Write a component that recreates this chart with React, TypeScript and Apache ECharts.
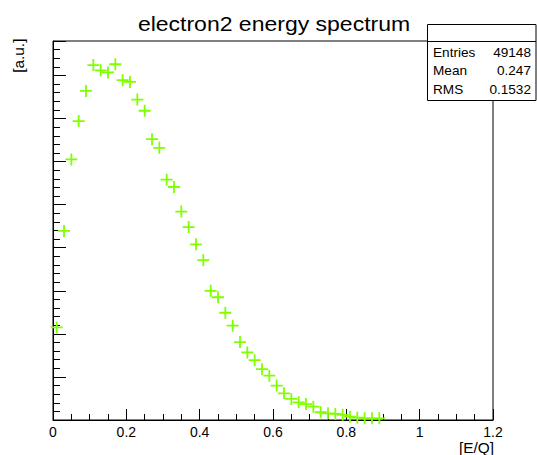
import React, { useEffect, useRef } from "react";
import * as echarts from "echarts";

// ---- data ----
const xCenters = [
  0.01, 0.03, 0.05, 0.07, 0.09, 0.11, 0.13, 0.15, 0.17, 0.19,
  0.21, 0.23, 0.25, 0.27, 0.29, 0.31, 0.33, 0.35, 0.37, 0.39,
  0.41, 0.43, 0.45, 0.47, 0.49, 0.51, 0.53, 0.55, 0.57, 0.59,
  0.61, 0.63, 0.65, 0.67, 0.69, 0.71, 0.73, 0.75, 0.77, 0.79,
  0.81, 0.83, 0.85, 0.87, 0.89,
];
const yValues = [
  2.15, 4.39, 6.05, 6.94, 7.64, 8.24, 8.12, 8.07, 8.26, 7.89,
  7.85, 7.44, 7.18, 6.52, 6.32, 5.58, 5.41, 4.84, 4.48, 4.08,
  3.71, 3.0, 2.85, 2.49, 2.19, 1.81, 1.57, 1.39, 1.18, 1.03,
  0.8, 0.62, 0.49, 0.41, 0.37, 0.31, 0.18, 0.155, 0.14, 0.12,
  0.077, 0.053, 0.04, 0.04, 0.04,
];
const titleText = "electron2 energy spectrum";
const xTitle = "[E/Q]";
const yTitle = "[a.u.]";
const statsLabels = ["Entries", "Mean", "RMS"];
const statsValues = ["49148", "0.247", "0.1532"];
const xMin = 0;
const xMax = 1.2;
const xInterval = 0.2;
const yMin = 0;
const yMax = 8.8;

const FONT = "Liberation Sans";
const MARKER = "#80ff00";
const plusPath =
  "path://M5.1,0L6.9,0L6.9,5.1L12,5.1L12,6.9L6.9,6.9L6.9,12L5.1,12L5.1,6.9L0,6.9L0,5.1L5.1,5.1Z";

function label(
  text: string,
  x: number,
  y: number,
  size: number,
  align: string,
  sx: number,
  rotation = 0
) {
  return {
    type: "text",
    z: 101,
    x,
    y,
    scaleX: sx,
    rotation,
    style: {
      x: 0,
      y: 0,
      text,
      fill: "#000",
      font: `${size}px "${FONT}"`,
      textAlign: align,
      textVerticalAlign: "middle",
    },
  };
}

export default function App() {
  const ref = useRef<HTMLDivElement>(null);
  useEffect(() => {
    if (!ref.current) return;
    const chart = echarts.init(ref.current, undefined, { renderer: "svg" });
    const black = { color: "#000", width: 1 };
    const statsRows: any[] = [];
    statsLabels.forEach((lab, i) => {
      statsRows.push(label(lab, 433, 52.7 + i * 18.3, 12.6, "left", 1.08));
      statsRows.push(
        label(statsValues[i], 531, 52.7 + i * 18.3, 12.6, "right", 1.08)
      );
    });
    chart.setOption({
      animation: false,
      backgroundColor: "#fff",
      grid: {
        left: 53,
        right: 44,
        top: 41,
        bottom: 35,
        show: true,
        borderColor: "#000",
        borderWidth: 1,
        backgroundColor: "transparent",
      },
      xAxis: {
        type: "value",
        min: xMin,
        max: xMax,
        interval: xInterval,
        axisLine: { show: true, onZero: false, lineStyle: black },
        axisTick: { show: true, inside: true, length: 11, lineStyle: black },
        minorTick: { show: true, splitNumber: 4, length: 6, lineStyle: black },
        splitLine: { show: false },
        minorSplitLine: { show: false },
        axisLabel: {
          color: "#000",
          fontFamily: FONT,
          fontSize: 14,
          margin: 5,
        },
      },
      yAxis: [
        {
          type: "value",
          min: yMin,
          max: yMax,
          interval: 0.2,
          axisLine: { show: true, onZero: false, lineStyle: black },
          axisTick: { show: true, inside: true, length: 7, lineStyle: black },
          axisLabel: { show: false },
          splitLine: { show: false },
        },
        {
          type: "value",
          min: yMin,
          max: yMax,
          interval: 1,
          position: "left",
          axisLine: { show: false },
          axisTick: { show: true, inside: true, length: 13, lineStyle: black },
          axisLabel: { show: false },
          splitLine: { show: false },
        },
      ],
      series: [
        {
          type: "scatter",
          yAxisIndex: 0,
          data: xCenters.map((x, i) => [x, yValues[i]]),
          symbol: plusPath,
          symbolSize: 12,
          itemStyle: { color: MARKER, opacity: 1 },
          clip: false,
          z: 5,
        },
      ],
      graphic: [
        label(titleText, 274, 24.5, 20, "center", 1.15),
        label(xTitle, 494, 448, 14, "right", 1.1),
        label(yTitle, 19.5, 55.7, 14, "center", 1.1, Math.PI / 2),
        {
          type: "rect",
          z: 100,
          shape: { x: 427.5, y: 24.5, width: 108.5, height: 76 },
          style: { fill: "#fff", stroke: "#000", lineWidth: 1 },
        },
        {
          type: "line",
          z: 100,
          shape: { x1: 427.5, y1: 41.5, x2: 536, y2: 41.5 },
          style: { stroke: "#000", lineWidth: 1 },
        },
        ...statsRows,
      ],
    });
    return () => chart.dispose();
  }, []);
  return (
    <div
      ref={ref}
      style={{
        position: "fixed",
        left: 0,
        top: 0,
        width: 537,
        height: 455,
        background: "#fff",
      }}
    />
  );
}
